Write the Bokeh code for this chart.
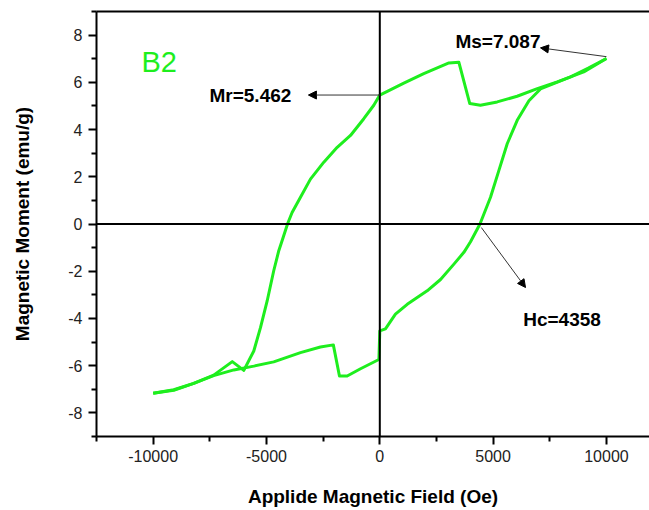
from bokeh.plotting import figure
from bokeh.models import Range1d, FixedTicker, LinearAxis, Span, Arrow, NormalHead, Label
from bokeh.embed import file_html
from bokeh.resources import INLINE

# Descending branch (field from +10000 Oe down to -10000 Oe)
desc_field = [10000, 9000, 7830, 6950, 6060, 5180, 4440, 3970, 3490, 3050, 1940, 1060, 0,
              -265, -706, -1293, -1880, -2470, -3060, -3500, -3870, -4060, -4265, -4457,
              -4680, -4970, -5265, -5560, -6000, -6510, -7330, -8210, -9090, -10000]
desc_moment = [7.01, 6.44, 6.02, 5.73, 5.41, 5.17, 5.03, 5.10, 6.85, 6.82, 6.37, 5.97, 5.46,
               5.03, 4.46, 3.75, 3.25, 2.62, 1.90, 1.13, 0.49, 0.03, -0.57, -1.13,
               -1.98, -3.26, -4.39, -5.38, -6.20, -5.83, -6.40, -6.75, -7.02, -7.17]

# Ascending branch (field from -10000 Oe up to +10000 Oe)
asc_field = [-10000, -9090, -8210, -7330, -6440, -5560, -4680, -3500, -2620, -2050, -1780,
             -1440, -850, -40, 0, 250, 690, 1210, 2090, 2680, 3270, 3710, 4003, 4420, 4885,
             5252, 5622, 6063, 6580, 7090, 8420, 9200, 10000]
asc_moment = [-7.17, -7.04, -6.75, -6.42, -6.18, -6.02, -5.84, -5.45, -5.21, -5.12, -6.44,
              -6.44, -6.13, -5.74, -4.53, -4.44, -3.82, -3.40, -2.83, -2.35, -1.70, -1.20,
              -0.75, 0.0, 1.13, 2.26, 3.40, 4.39, 5.22, 5.72, 6.23, 6.60, 7.01]

x_ticks = [-10000, -5000, 0, 5000, 10000]
x_tick_labels = ["-10000", "-5000", "0", "5000", "10000"]
x_minor = [-12500, -7500, -2500, 2500, 7500]
y_ticks = [-8, -6, -4, -2, 0, 2, 4, 6, 8]
y_tick_labels = ["-8", "-6", "-4", "-2", "0", "2", "4", "6", "8"]
y_minor = [-9, -7, -5, -3, -1, 1, 3, 5, 7, 9]

ann_text = ["Ms=7.087", "Mr=5.462", "Hc=4358"]
ann_x = [3336, -7515, 6328]
ann_y = [7.74, 5.43, -4.04]
arrow_x_start = [10000, 0, 4480]
arrow_y_start = [7.087, 5.462, -0.15]
arrow_x_end = [7090, -3150, 6430]
arrow_y_end = [7.46, 5.462, -2.69]

sample_name = "B2"
sample_x = -10516
sample_y = 6.85

GREEN = "#1EEE1E"
FONT = "Liberation Sans"

p = figure(width=649, height=510, x_range=Range1d(-12500, 11900), y_range=Range1d(-9, 9),
           output_backend="svg", toolbar_location=None,
           min_border_left=96, min_border_right=0, min_border_top=11, min_border_bottom=74)
p.grid.visible = False
p.outline_line_color = None
p.background_fill_color = "white"
p.border_fill_color = "white"

for ax, ticks, minor, labels in [(p.xaxis[0], x_ticks, x_minor, x_tick_labels),
                                 (p.yaxis[0], y_ticks, y_minor, y_tick_labels)]:
    ax.ticker = FixedTicker(ticks=ticks, minor_ticks=minor)
    ax.major_label_overrides = {t: l for t, l in zip(ticks, labels)}
    ax.axis_line_width = 2
    ax.axis_line_color = "black"
    ax.major_tick_in = 0
    ax.major_tick_out = 8
    ax.minor_tick_in = 0
    ax.minor_tick_out = 5
    ax.major_tick_line_width = 2
    ax.minor_tick_line_width = 2
    ax.major_label_text_font = FONT
    ax.major_label_text_font_size = "16px"
    ax.major_label_text_color = "#222222"
    ax.axis_label_text_font = FONT
    ax.axis_label_text_font_style = "bold"
    ax.axis_label_text_font_size = "19px"
    ax.axis_label_text_color = "black"

p.xaxis[0].axis_label = "Applide Magnetic Field (Oe)"
p.yaxis[0].axis_label = "Magnetic Moment (emu/g)"
p.xaxis[0].major_label_standoff = 5
p.yaxis[0].major_label_standoff = 6
p.xaxis[0].axis_label_standoff = 21
p.yaxis[0].axis_label_standoff = 32

top = LinearAxis(ticker=FixedTicker(ticks=[]), axis_line_width=2, axis_line_color="black",
                 major_tick_in=0, major_tick_out=0, minor_tick_in=0, minor_tick_out=0,
                 major_label_text_font_size="0px")
p.add_layout(top, "above")

p.add_layout(Span(location=0, dimension="height", line_color="black", line_width=2))
p.add_layout(Span(location=0, dimension="width", line_color="black", line_width=2))

p.line(desc_field, desc_moment, line_color=GREEN, line_width=3, line_join="round")
p.line(asc_field, asc_moment, line_color=GREEN, line_width=3, line_join="round")

for xs, ys, xe, ye in zip(arrow_x_start, arrow_y_start, arrow_x_end, arrow_y_end):
    p.add_layout(Arrow(end=NormalHead(size=8, fill_color="black", line_color="black", line_width=1),
                       x_start=xs, y_start=ys, x_end=xe, y_end=ye,
                       line_color="#333333", line_width=1))

for t, x, y in zip(ann_text, ann_x, ann_y):
    p.add_layout(Label(x=x, y=y, text=t, text_font=FONT, text_font_style="bold",
                       text_font_size="19px", text_color="black", text_baseline="alphabetic"))

p.add_layout(Label(x=sample_x, y=sample_y, text=sample_name, text_font=FONT,
                   text_font_size="29px", text_color=GREEN, text_baseline="alphabetic"))

open("out.html", "w").write(file_html(p, INLINE))
